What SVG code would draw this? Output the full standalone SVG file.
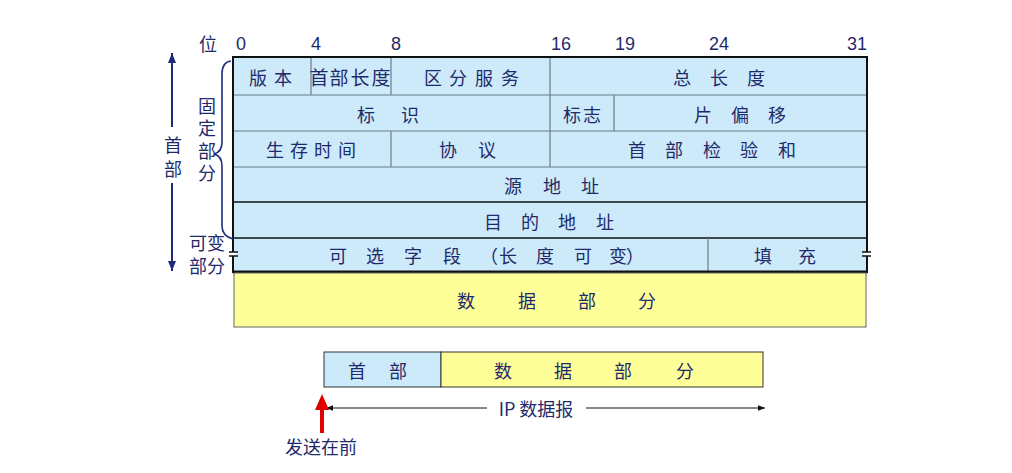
<svg xmlns="http://www.w3.org/2000/svg" width="1012" height="473" viewBox="0 0 1012 473">
<defs>
<style>
.t{font-family:"Noto Sans CJK SC","Noto Sans",sans-serif;font-size:18px;fill:#1f2a6b;text-anchor:middle;dominant-baseline:central}
.n{font-family:"Liberation Sans",Arial,sans-serif;font-size:18px;fill:#1f2a6b;text-anchor:middle}
.blue{fill:#cdeafa}
.yel{fill:#ffff99}
.g{stroke:#6b7b8b;stroke-width:1.2;fill:none}
.k{stroke:#111;stroke-width:1.5;fill:none}
</style>
<marker id="ah" viewBox="0 0 10 10" refX="10" refY="5" markerWidth="7" markerHeight="7" orient="auto-start-reverse" markerUnits="userSpaceOnUse">
<path d="M0,1 L10,5 L0,9 z" fill="#111"/>
</marker>
<marker id="nv" viewBox="0 0 10 10" refX="10" refY="5" markerWidth="10" markerHeight="10" orient="auto-start-reverse" markerUnits="userSpaceOnUse">
<path d="M0,1 L10,5 L0,9 z" fill="#1f2a7b"/>
</marker>
</defs>
<rect width="1012" height="473" fill="#fff"/>

<g id="bits">
<text class="t" x="208" y="43">位</text>
<text class="n" x="241" y="50">0</text>
<text class="n" x="316" y="50">4</text>
<text class="n" x="396" y="50">8</text>
<text class="n" x="561" y="50">16</text>
<text class="n" x="625" y="50">19</text>
<text class="n" x="719" y="50">24</text>
<text class="n" x="857" y="50">31</text>
</g>

<g id="header-table">
<rect class="blue" x="233" y="57" width="634" height="215"/>
<g id="row1">
<line class="g" x1="311" y1="57" x2="311" y2="95"/>
<line class="g" x1="391" y1="57" x2="391" y2="95"/>
<line class="g" x1="550" y1="57" x2="550" y2="95"/>
<text class="t" x="258 283" y="77">版本</text>
<text class="t" x="319 339 360 381" y="76" style="font-size:19px">首部长度</text>
<text class="t" x="433 458 484 510" y="77">区分服务</text>
<text class="t" x="682 719 756" y="77">总长度</text>
</g>
<line class="g" x1="233" y1="95" x2="867" y2="95"/>
<g id="row2">
<line class="g" x1="550" y1="95" x2="550" y2="131"/>
<line class="g" x1="614" y1="95" x2="614" y2="131"/>
<text class="t" x="366 410" y="114">标识</text>
<text class="t" x="572 592" y="114">标志</text>
<text class="t" x="703 740 777" y="114">片偏移</text>
</g>
<line class="g" x1="233" y1="131" x2="867" y2="131"/>
<g id="row3">
<line class="g" x1="391" y1="131" x2="391" y2="167"/>
<line class="g" x1="550" y1="131" x2="550" y2="167"/>
<text class="t" x="275 299 323 347" y="149">生存时间</text>
<text class="t" x="448 487" y="149">协议</text>
<text class="t" x="637 674 712 749 787" y="149">首部检验和</text>
</g>
<line class="g" x1="233" y1="167" x2="867" y2="167"/>
<g id="row4">
<text class="t" x="513 552 590" y="185">源地址</text>
</g>
<line class="k" x1="233" y1="202" x2="867" y2="202" style="stroke-width:1.3"/>
<g id="row5">
<text class="t" x="493 530 567 605" y="221">目的地址</text>
</g>
<line class="k" x1="233" y1="238" x2="867" y2="238" style="stroke-width:1.3"/>
<g id="row6">
<line class="g" x1="708" y1="238" x2="708" y2="272"/>
<text class="t" x="338 375 413 452 489 508 545 583 618 635" y="255">可选字段（长度可变）</text>
<text class="t" x="763 807" y="255">填充</text>
</g>
<rect x="233" y="57" width="634" height="215" fill="none" stroke="#111" stroke-width="2"/>
<line x1="233" y1="272" x2="867" y2="272" stroke="#111" stroke-width="3"/>
</g>

<g id="breaks">
<rect x="230" y="252" width="6" height="4" fill="#fff"/>
<line x1="229" y1="252" x2="238" y2="252" stroke="#111" stroke-width="1.5"/>
<line x1="229" y1="256" x2="238" y2="256" stroke="#111" stroke-width="1.5"/>
<rect x="864" y="252" width="6" height="4" fill="#fff"/>
<line x1="862" y1="252" x2="871" y2="252" stroke="#111" stroke-width="1.5"/>
<line x1="862" y1="256" x2="871" y2="256" stroke="#111" stroke-width="1.5"/>
</g>

<g id="data-part">
<rect class="yel" x="234" y="273" width="632" height="54" stroke="#666" stroke-width="1"/>
<text class="t" x="466 527 587 647" y="300">数据部分</text>
</g>

<g id="left-labels">
<path d="M231,61 Q222,62 222,74 L222,142 Q222,152 214,154 Q222,156 222,166 L222,226 Q222,236 233,239" fill="none" stroke="#1f2a7b" stroke-width="1.6"/>
<text class="t" x="207 207 207 207" y="105 127 150 172">固定部分</text>
<text class="t" x="198 216 198 216" y="242 242 265 265">可变部分</text>
<text class="t" x="173 173" y="144 168">首部</text>
</g>

<g id="connectors">
<line x1="172" y1="127" x2="172" y2="53" stroke="#1f2a7b" stroke-width="2" marker-end="url(#nv)"/>
<line x1="172" y1="183" x2="172" y2="271" stroke="#1f2a7b" stroke-width="2" marker-end="url(#nv)"/>
<line x1="487" y1="408" x2="326" y2="408" stroke="#111" stroke-width="1" marker-end="url(#ah)"/>
<line x1="586" y1="408" x2="765" y2="408" stroke="#111" stroke-width="1" marker-end="url(#ah)"/>
<line x1="322" y1="433" x2="322" y2="408" stroke="#e00000" stroke-width="4"/>
<polygon points="322,394 315,410 329,410" fill="#e00000"/>
</g>

<g id="datagram">
<rect class="blue" x="324" y="352" width="117" height="35" stroke="#333" stroke-width="1"/>
<rect class="yel" x="441" y="352" width="322" height="35" stroke="#333" stroke-width="1"/>
<text class="t" x="357 398" y="370">首部</text>
<text class="t" x="503 563 623 685" y="370">数据部分</text>
</g>

<g id="labels-bottom">
<text class="t" x="536" y="408">IP 数据报</text>
<text class="t" x="321" y="446">发送在前</text>
</g>
</svg>
